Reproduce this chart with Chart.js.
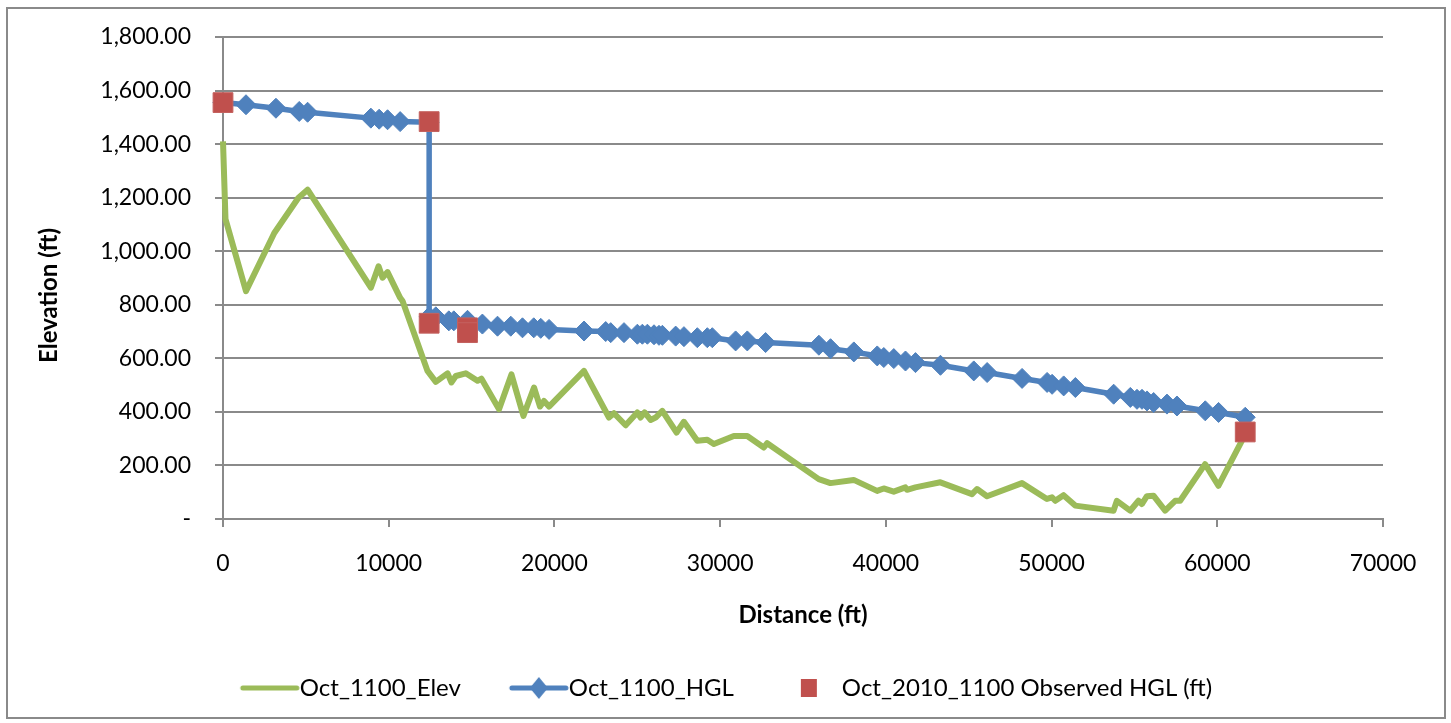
<!DOCTYPE html>
<html>
<head>
<meta charset="utf-8">
<script src="https://cdn.jsdelivr.net/npm/chart.js@4.4.1/dist/chart.umd.min.js"></script>
<style>
  html, body { margin: 0; padding: 0; background: #ffffff; }
  #frame {
    position: absolute;
    left: 6px;
    top: 7px;
    width: 1440px;
    height: 712px;
    box-sizing: border-box;
    border: 2px solid #8a8a8a;
    background: #ffffff;
  }
  #frame canvas { display: block; }
</style>
</head>
<body>
<div id="frame"><canvas id="chart-profile"></canvas></div>
<script>
// Oct_1100 ground profile (distance ft, elevation ft)
const elevDist = [0, 150, 1387, 3095, 4541, 5105, 8923, 9387, 9628, 9930, 10690, 10835,
  12341, 12842, 13547, 13788, 14048, 14650, 15356, 15597, 16658, 17406, 18129, 18768,
  19130, 19371, 19673, 21783, 23290, 23592, 24297, 25002, 25201, 25442, 25804, 26106,
  26510, 27372, 27812, 28620, 29223, 29621, 30827, 31635, 32635, 32840, 35951, 36656,
  38061, 39472, 39870, 40473, 41178, 41281, 41781, 43288, 45200, 45501, 46104, 48214,
  49721, 50023, 50222, 50722, 51428, 53737, 53942, 54744, 55245, 55449, 55751, 56149,
  56854, 57457, 57758, 59265, 60067, 61677];
const elevVal = [1410, 1120, 851, 1068, 1199, 1230, 864, 944, 901, 922, 826, 814,
  553, 512, 544, 510, 534, 544, 516, 524, 410, 540, 385, 491,
  420, 441, 420, 553, 379, 395, 350, 398, 379, 398, 370, 379,
  404, 323, 363, 292, 296, 280, 310, 310, 267, 283, 149, 134,
  146, 105, 114, 102, 118, 109, 118, 137, 93, 112, 85, 134,
  75, 81, 68, 89, 50, 31, 68, 31, 68, 56, 85, 87,
  31, 68, 68, 205, 124, 315];

// Oct_1100 hydraulic grade line
const hglDist = [0, 1387, 3195, 4600, 5105, 8923, 9423, 9930, 10690, 12440, 12440,
  12844, 13628, 13929, 14755, 15653, 16565, 17366, 18072, 18753, 19175, 19676,
  21787, 23095, 23396, 24199, 25005, 25307, 25609, 26010, 26310, 26515,
  27316, 27816, 28623, 29226, 29528, 30934, 31639, 32743, 35958, 36662,
  38068, 39479, 39876, 40480, 41185, 41788, 43295, 45305, 46111, 48221,
  49730, 50032, 50731, 51436, 53747, 54752, 55155, 55457, 55758, 56160,
  56964, 57567, 59275, 60077, 61687];
const hglVal = [1555, 1547, 1534, 1522, 1519, 1497, 1493, 1491, 1484, 1482, 755,
  755, 740, 740, 742, 728, 720, 720, 714, 714, 712, 708,
  702, 700, 696, 696, 690, 690, 690, 688, 686, 686,
  683, 681, 677, 677, 677, 665, 665, 659, 649, 636,
  624, 609, 603, 599, 590, 584, 574, 553, 547, 525,
  510, 503, 497, 491, 466, 454, 447, 447, 441, 435,
  429, 422, 404, 398, 380];

// Oct_2010_1100 observed HGL
const obsDist = [0, 12440, 12440, 14755, 14755, 61687];
const obsVal = [1555, 1484, 731, 714, 696, 325];

const seriesNames = ["Oct_1100_Elev", "Oct_1100_HGL", "Oct_2010_1100 Observed HGL (ft)"];
const xTicks = [0, 10000, 20000, 30000, 40000, 50000, 60000, 70000];
const yTicks = [0, 200, 400, 600, 800, 1000, 1200, 1400, 1600, 1800];

const GREEN = "#9BBB59";
const BLUE = "#4F81BD";
const RED = "#C0504D";
const GRID = "#8a8a8a";

const toPoints = (xs, ys) => xs.map((x, i) => ({ x: x, y: ys[i] }));

// legend swatches: line, line + diamond, square
function legendIcon(kind) {
  const c = document.createElement("canvas");
  c.width = 80;
  c.height = 24;
  const g = c.getContext("2d");
  if (kind === "line" || kind === "diamond") {
    g.strokeStyle = kind === "line" ? GREEN : BLUE;
    g.lineWidth = 5;
    g.lineCap = "round";
    g.beginPath();
    g.moveTo(19, 12);
    g.lineTo(73, 12);
    g.stroke();
  }
  if (kind === "diamond") {
    g.fillStyle = BLUE;
    g.beginPath();
    g.moveTo(46, 1);
    g.lineTo(55, 12);
    g.lineTo(46, 23);
    g.lineTo(37, 12);
    g.closePath();
    g.fill();
  }
  if (kind === "square") {
    g.fillStyle = RED;
    g.fillRect(35, 3, 16, 18);
  }
  return c;
}

function drawChart() {
  const ctx = document.getElementById("chart-profile").getContext("2d");
  const icons = [legendIcon("line"), legendIcon("diamond"), legendIcon("square")];

  new Chart(ctx, {
    type: "line",
    data: {
      datasets: [
        {
          label: seriesNames[0],
          data: toPoints(elevDist, elevVal),
          borderColor: GREEN,
          backgroundColor: GREEN,
          borderWidth: 6,
          borderJoinStyle: "round",
          pointRadius: 0,
          tension: 0,
          order: 3,
          clip: false,
        },
        {
          label: seriesNames[1],
          data: toPoints(hglDist, hglVal),
          borderColor: BLUE,
          backgroundColor: BLUE,
          borderWidth: 5.5,
          borderJoinStyle: "round",
          pointStyle: "rectRot",
          pointRadius: 10,
          pointBorderWidth: 1,
          pointBackgroundColor: BLUE,
          pointBorderColor: BLUE,
          tension: 0,
          order: 2,
          clip: false,
        },
        {
          label: seriesNames[2],
          data: toPoints(obsDist, obsVal),
          showLine: false,
          borderColor: RED,
          backgroundColor: RED,
          pointStyle: "rect",
          pointRadius: 14,
          pointBorderWidth: 1,
          pointBackgroundColor: RED,
          pointBorderColor: "#c4625f",
          order: 1,
          clip: false,
        },
      ],
    },
    options: {
      responsive: true,
      maintainAspectRatio: false,
      animation: false,
      devicePixelRatio: 1,
      layout: { padding: { left: 0, right: 0, top: 28, bottom: 7 } },
      plugins: {
        tooltip: { enabled: false },
        legend: {
          position: "bottom",
          labels: {
            color: "#000000",
            font: { family: "Lato", size: 24 },
            usePointStyle: true,
            pointStyleWidth: 48,
            padding: 48,
            sort: (a, b) => a.datasetIndex - b.datasetIndex,
            generateLabels: (chart) =>
              chart.data.datasets.map((ds, i) => ({
                text: ds.label,
                datasetIndex: i,
                pointStyle: icons[i],
                fillStyle: "transparent",
                strokeStyle: "transparent",
                lineWidth: 0,
                fontColor: "#000000",
                hidden: false,
              })),
          },
        },
      },
      scales: {
        x: {
          type: "linear",
          min: xTicks[0],
          max: xTicks[xTicks.length - 1],
          afterBuildTicks: (scale) => {
            scale.ticks = xTicks.map((v) => ({ value: v }));
          },
          afterFit: (scale) => {
            scale.height = 109;
          },
          ticks: {
            color: "#000000",
            font: { family: "Lato", size: 23 },
            padding: 23,
            maxRotation: 0,
            callback: (v) => String(v),
          },
          grid: {
            drawOnChartArea: false,
            drawTicks: true,
            tickLength: 8,
            color: GRID,
            lineWidth: 2,
          },
          border: { display: true, color: GRID, width: 2 },
          title: {
            display: true,
            text: "Distance (ft)",
            color: "#000000",
            font: { family: "Lato", size: 24, weight: "bold" },
            padding: { top: 0, bottom: -2 },
          },
        },
        y: {
          type: "linear",
          min: yTicks[0],
          max: yTicks[yTicks.length - 1],
          afterBuildTicks: (scale) => {
            scale.ticks = yTicks.map((v) => ({ value: v }));
          },
          afterFit: (scale) => {
            scale.width = 215;
            scale.paddingTop = 0;
            scale.paddingBottom = 0;
          },
          ticks: {
            color: "#000000",
            font: { family: "Lato", size: 23 },
            padding: 24,
            callback: (v) =>
              v === 0
                ? "-"
                : v.toLocaleString("en-US", { minimumFractionDigits: 2, maximumFractionDigits: 2 }),
          },
          grid: {
            drawTicks: true,
            tickLength: 8,
            color: GRID,
            lineWidth: 2,
          },
          border: { display: true, color: GRID, width: 2 },
          title: {
            display: true,
            text: "Elevation (ft)      ",
            color: "#000000",
            font: { family: "Lato", size: 24, weight: "bold" },
            padding: { top: 27, bottom: 27 },
          },
        },
        // empty right-hand gutter so the plot ends at 70000 like the original
        gutter: {
          type: "linear",
          position: "right",
          min: yTicks[0],
          max: yTicks[yTicks.length - 1],
          afterFit: (scale) => {
            scale.width = 61;
            scale.paddingTop = 0;
            scale.paddingBottom = 0;
          },
          ticks: { display: false },
          grid: { display: false },
          border: { display: false },
        },
      },
    },
  });
}

document.fonts.load("23px Lato").then(drawChart, drawChart);
</script>
</body>
</html>
